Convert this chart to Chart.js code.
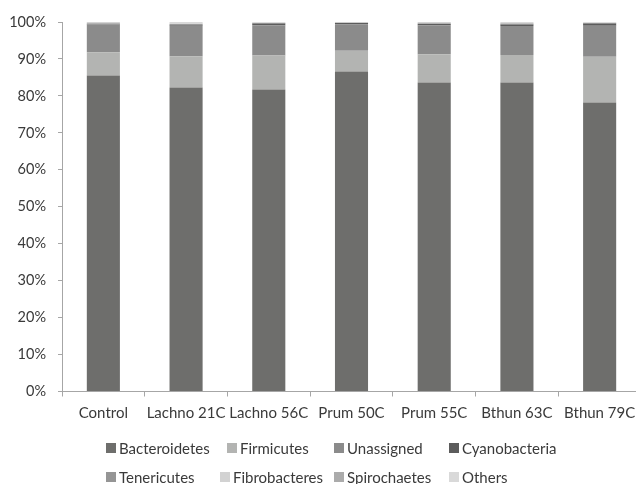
<!DOCTYPE html>
<html>
<head>
<meta charset="utf-8">
<script src="https://cdn.jsdelivr.net/npm/chart.js@4/dist/chart.umd.min.js"></script>
<style>
  html, body { margin: 0; padding: 0; background: #fff; overflow: hidden; }
  #wrap { position: relative; width: 650px; height: 484px; }
  #legend { position: absolute; left: 0; top: 0; width: 636px; height: 484px; pointer-events: none;
            font-family: Lato, "Open Sans", sans-serif; font-size: 15px; color: #3a3a3a; }
  .item { position: absolute; display: flex; align-items: center; white-space: nowrap; line-height: 18px; }
  .box { width: 10px; height: 10px; margin-right: 3px; }
</style>
</head>
<body>
<div id="wrap">
  <canvas id="c" width="650" height="484"></canvas>
  <div id="legend"></div>
</div>
<script>
// Samples on the x axis
const samples = ['Control', 'Lachno 21C', 'Lachno 56C', 'Prum 50C', 'Prum 55C', 'Bthun 63C', 'Bthun 79C'];

// Relative abundance of each phylum per sample (%)
const bacteroidetes = [85.5, 82.3, 81.7, 86.6, 83.6, 83.6, 78.2];
const firmicutes    = [ 6.3,  8.4,  9.2,  5.6,  7.7,  7.5, 12.4];
const unassigned    = [ 7.5,  8.3,  8.2,  7.1,  7.8,  7.8,  8.4];
const cyanobacteria = [ 0.2,  0.3,  0.5,  0.4,  0.4,  0.4,  0.6];
const tenericutes   = [ 0.1,  0.1,  0.1,  0.1,  0.1,  0.2,  0.1];
const fibrobacteres = [ 0.1,  0.1,  0.1,  0.0,  0.1,  0.1,  0.1];
const spirochaetes  = [ 0.1,  0.1,  0.0,  0.0,  0.1,  0.1,  0.0];
const others        = [ 0.2,  0.4,  0.2,  0.2,  0.2,  0.3,  0.2];

// Y axis tick values (%)
const yTicks = [0, 10, 20, 30, 40, 50, 60, 70, 80, 90, 100];

const series = [
  { label: 'Bacteroidetes', data: bacteroidetes, color: '#6e6e6c' },
  { label: 'Firmicutes',    data: firmicutes,    color: '#b3b4b2' },
  { label: 'Unassigned',    data: unassigned,    color: '#8b8b8b' },
  { label: 'Cyanobacteria', data: cyanobacteria, color: '#5c5c5c' },
  { label: 'Tenericutes',   data: tenericutes,   color: '#959595' },
  { label: 'Fibrobacteres', data: fibrobacteres, color: '#d2d2d2' },
  { label: 'Spirochaetes',  data: spirochaetes,  color: '#ababab' },
  { label: 'Others',        data: others,        color: '#d9d9d9' }
];

const axisColor = '#a6a6a6';
const textColor = '#3a3a3a';
const fontFamily = 'Lato, "Open Sans", sans-serif';

const chart = new Chart(document.getElementById('c'), {
  type: 'bar',
  data: {
    labels: samples,
    datasets: series.map(s => ({
      label: s.label,
      data: s.data,
      backgroundColor: s.color,
      borderWidth: 0,
      categoryPercentage: 1.0,
      barPercentage: 0.4
    }))
  },
  options: {
    responsive: false,
    animation: false,
    layout: { padding: { top: 22, right: 9, bottom: 0, left: 0 } },
    plugins: { legend: { display: false }, tooltip: { enabled: false } },
    scales: {
      x: {
        stacked: true,
        afterFit: s => { s.height = 92.5; },
        border: { color: axisColor, width: 1 },
        grid: { offset: true, drawOnChartArea: false, drawTicks: true, tickLength: 5, color: axisColor },
        ticks: { color: textColor, font: { family: fontFamily, size: 15 }, padding: 8, maxRotation: 0, autoSkip: false }
      },
      y: {
        stacked: true,
        min: 0,
        max: 100,
        afterFit: s => { s.width = 62; },
        afterBuildTicks: s => { s.ticks = yTicks.map(v => ({ value: v })); },
        border: { color: axisColor, width: 1 },
        grid: { drawOnChartArea: false, drawTicks: true, tickLength: 4, color: axisColor },
        ticks: { color: textColor, font: { family: fontFamily, size: 14.5 }, padding: 12, callback: v => v + '%' }
      }
    }
  }
});

// Legend in two rows of four, built from the chart's datasets
const legendPos = [
  [106, 448], [227, 448], [334, 448], [449, 448],
  [106, 477], [220, 477], [334, 477], [449, 477]
];
const legend = document.getElementById('legend');
chart.data.datasets.forEach((ds, i) => {
  const item = document.createElement('div');
  item.className = 'item';
  item.style.left = legendPos[i][0] + 'px';
  item.style.top = (legendPos[i][1] - 9) + 'px';
  const box = document.createElement('span');
  box.className = 'box';
  box.style.background = ds.backgroundColor;
  const txt = document.createElement('span');
  txt.textContent = ds.label;
  item.appendChild(box);
  item.appendChild(txt);
  legend.appendChild(item);
});
</script>
</body>
</html>
